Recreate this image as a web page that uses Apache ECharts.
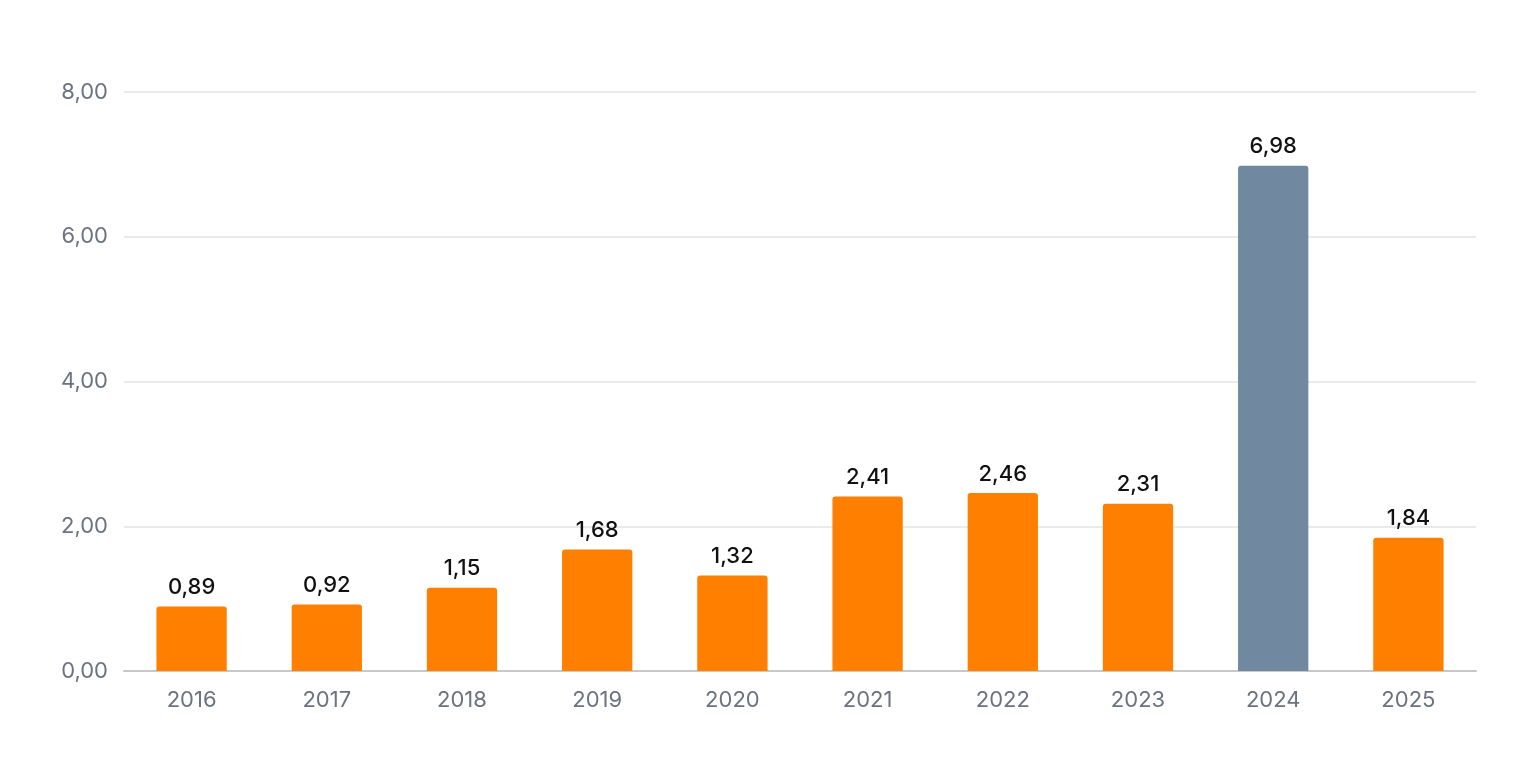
<!DOCTYPE html>
<html><head><meta charset="utf-8">
<script src="https://cdn.jsdelivr.net/npm/echarts@6/dist/echarts.min.js"></script>
<style>html,body{margin:0;padding:0;background:#fff}#c{width:1520px;height:760px}</style>
</head><body><div id="c"></div>
<script>
const categories = ['2016','2017','2018','2019','2020','2021','2022','2023','2024','2025'];
const values = [0.89,0.92,1.15,1.68,1.32,2.41,2.46,2.31,6.98,1.84];
const highlightCategory = '2024';
const fmt = v => v.toFixed(2).replace('.', ',');
const chart = echarts.init(document.getElementById('c'));
chart.setOption({
  animation:false,
  grid:{left:124,right:44,top:92,bottom:89},
  xAxis:{type:'category',data:categories,
    axisLine:{lineStyle:{color:'#c8c8c8',width:2}},axisTick:{show:false},
    axisLabel:{color:'#6b7280',fontSize:22,margin:18,fontFamily:'Inter, sans-serif'}},
  yAxis:{type:'value',min:0,max:8,interval:2,
    axisLabel:{color:'#6b7280',fontSize:22,margin:16,formatter:fmt,fontFamily:'Inter, sans-serif'},
    splitLine:{lineStyle:{color:'#e3e3e3',width:1.5}}},
  series:[{type:'bar',barWidth:'52%',
    data:values.map((v,i)=>({value:v,itemStyle:{color:categories[i]===highlightCategory?'#7088a0':'#ff7f00',borderRadius:[3,3,0,0]}})),
    label:{show:true,position:'top',distance:8,color:'#111',fontSize:22,fontWeight:500,fontFamily:'Inter, sans-serif',formatter:p=>fmt(p.value)}}]
});
</script></body></html>
